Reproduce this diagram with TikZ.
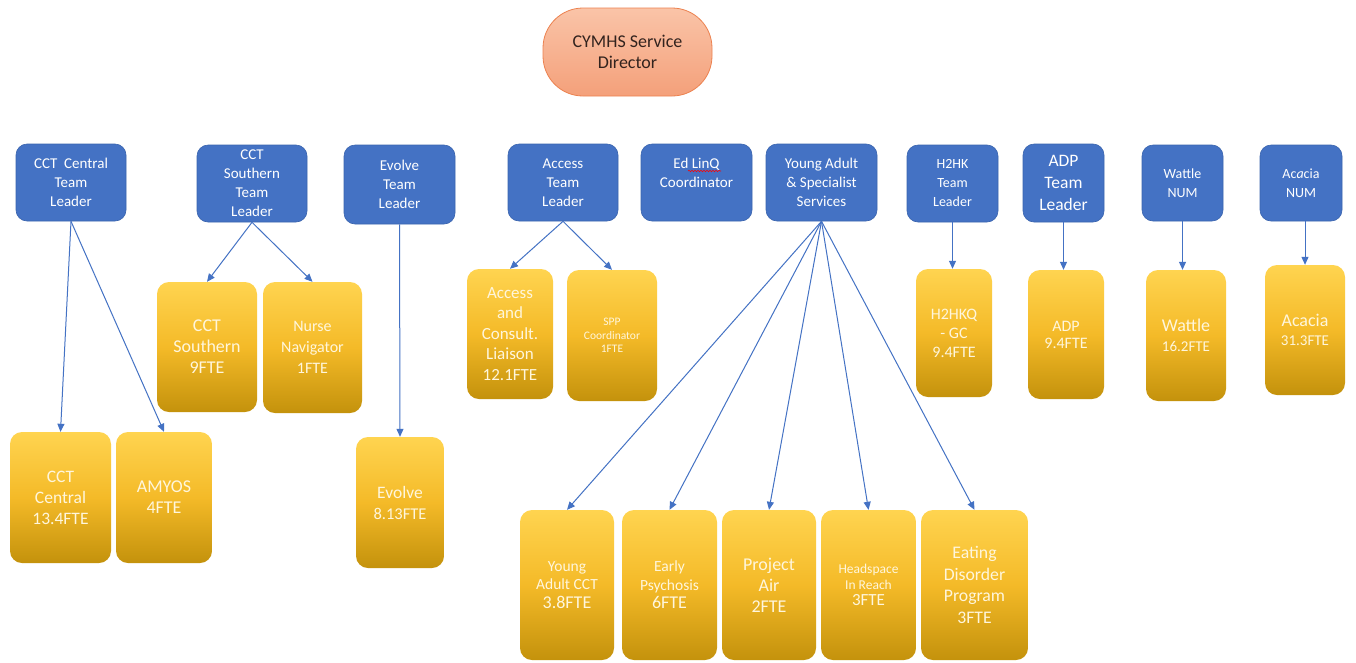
\documentclass[tikz,border=0pt]{standalone}
\usepackage{fontspec}
\setmainfont{Carlito}
\usetikzlibrary{arrows.meta,calc,decorations.pathmorphing}
\definecolor{ablue}{HTML}{4472C4}
\definecolor{ablueedge}{HTML}{3A64AE}
\definecolor{ytop}{RGB}{255,212,80}
\definecolor{ymid}{RGB}{244,186,40}
\definecolor{ybot}{RGB}{196,146,12}
\definecolor{ytext}{RGB}{255,246,220}
\definecolor{dtop}{RGB}{250,196,168}
\definecolor{dbot}{RGB}{244,160,122}
\definecolor{dedge}{RGB}{236,130,80}
\definecolor{dtext}{RGB}{50,35,30}
\newcommand{\myfs}[2]{\fontsize{#1}{#2}\selectfont}
\begin{document}
\begin{tikzpicture}[x=1pt,y=-1pt,
 bluebox/.style={fill=ablue, draw=ablueedge, line width=0.6pt, rounded corners=11pt, align=center, text=white, inner sep=0pt, font=\myfs{15}{19}},
 goldbox/.style={top color=ytop, bottom color=ybot, middle color=ymid, draw=none, rounded corners=12pt, align=center, text=ytext, inner sep=0pt, font=\myfs{17.5}{21}},
 dirbox/.style={top color=dtop, bottom color=dbot, draw=dedge, line width=0.8pt, rounded corners=40pt, align=center, text=dtext, inner sep=0pt, font=\myfs{18}{21}},
 link/.style={draw=ablue, line width=1pt, -{Triangle[length=8pt,width=7pt]}},
]
\fill[white] (0,0) rectangle (1356,662);
\useasboundingbox (0,0) rectangle (1356,662);

% director
\node[dirbox, minimum width=169pt, minimum height=88pt] (dir) at (627.5,52) {CYMHS Service\\Director};

% blue boxes
\node[bluebox, minimum width=110pt, minimum height=77pt] (ctl) at (71,182.5) {CCT~ Central\\Team\\Leader};
\node[bluebox, minimum width=110pt, minimum height=77pt] (stl) at (252,183.5) {CCT\\Southern\\Team\\Leader};
\node[bluebox, minimum width=111pt, minimum height=79pt] (etl) at (399.5,184.5) {Evolve\\Team\\Leader};
\node[bluebox, minimum width=110pt, minimum height=77pt] (atl) at (563,182.5) {Access\\Team\\Leader};
\node[bluebox, minimum width=111pt, minimum height=77pt] (ed) at (696.5,182.5) {Ed LinQ\\Coordinator\\\phantom{X}};
\node[bluebox, minimum width=111pt, minimum height=77pt] (yas) at (821.5,182.5) {Young Adult\\\& Specialist\\Services};
\node[bluebox, minimum width=91pt, minimum height=77pt, font=\myfs{14}{19}] (htl) at (952.5,183.5) {H2HK\\Team\\Leader};
\node[bluebox, minimum width=81pt, minimum height=78pt, font=\myfs{17.5}{22}] (adptl) at (1063.5,183) {ADP\\Team\\Leader};
\node[bluebox, minimum width=81pt, minimum height=76pt, font=\myfs{14}{19}] (wnum) at (1182.5,183) {Wattle\\NUM};
\node[bluebox, minimum width=82pt, minimum height=76pt, font=\myfs{14}{19}] (anum) at (1301,183) {Ac\textit{a}cia\\NUM};

% spell-check underline
\draw[red, line width=0.6pt, decorate, decoration={snake, amplitude=0.7pt, segment length=3pt}]
  ($(ed.center)+(-8.5,-11.5)$) -- ($(ed.center)+(24.5,-11.5)$);

% gold boxes
\node[goldbox, minimum width=101pt, minimum height=131pt] (cctc) at (60.5,497.5) {CCT\\Central\\13.4FTE};
\node[goldbox, minimum width=96pt, minimum height=131pt, font=\myfs{18}{21}] (amyos) at (164,497.5) {AMYOS\\4FTE};
\node[goldbox, minimum width=88pt, minimum height=131pt, font=\myfs{17.5}{21}] (evo) at (400,502.5) {Evolve\\{\myfs{16.5}{20}8.13FTE}};
\node[goldbox, minimum width=100pt, minimum height=130pt, font=\myfs{18}{21}] (ccts) at (207,347) {CCT\\Southern\\9FTE};
\node[goldbox, minimum width=99pt, minimum height=131pt, font=\myfs{16}{21}] (nurse) at (312.5,347.5) {Nurse\\Navigator\\1FTE};
\node[goldbox, minimum width=86pt, minimum height=130pt, font=\myfs{17}{20.5}] (acc) at (510,334) {Access\\and\\Consult.\\Liaison\\12.1FTE};
\node[goldbox, minimum width=90pt, minimum height=131pt, font=\myfs{11.5}{13.5}] (spp) at (612,335.5) {SPP\\Coordinator\\1FTE};
\node[goldbox, minimum width=76pt, minimum height=128pt, font=\myfs{16}{19}] (h2hkq) at (954,333) {H2HKQ\\- GC\\9.4FTE};
\node[goldbox, minimum width=76pt, minimum height=129pt, font=\myfs{16}{17}] (adp) at (1066,334.5) {ADP\\9.4FTE};
\node[goldbox, minimum width=80pt, minimum height=131pt, font=\myfs{18}{20}] (wattle) at (1186,335.5) {Wattle\\{\myfs{15}{20}16.2FTE}};
\node[goldbox, minimum width=80pt, minimum height=130pt, font=\myfs{18}{19}] (acacia) at (1305,330) {Acacia\\{\myfs{15}{19}31.3FTE}};

\node[goldbox, minimum width=94pt, minimum height=150pt, font=\myfs{15.5}{18.5}] (yacct) at (567,585) {Young\\Adult CCT\\{\myfs{18}{21}3.8FTE}};
\node[goldbox, minimum width=95pt, minimum height=150pt, font=\myfs{15.5}{18.5}] (early) at (669.5,585) {Early\\Psychosis\\{\myfs{18}{21}6FTE}};
\node[goldbox, minimum width=94pt, minimum height=150pt, font=\myfs{18}{21}] (proj) at (769,585) {Project\\Air\\2FTE};
\node[goldbox, minimum width=95pt, minimum height=150pt, font=\myfs{13.5}{16}] (head) at (868.5,585) {Headspace\\In Reach\\{\myfs{17}{19}3FTE}};
\node[goldbox, minimum width=107pt, minimum height=150pt, font=\myfs{17.7}{21.7}] (eat) at (974.5,585) {Eating\\Disorder\\Program\\3FTE};

% connectors
\draw[link] (ctl.south) -- (cctc.north);
\draw[link] (ctl.south) -- (amyos.north);
\draw[link] (stl.south) -- (ccts.north);
\draw[link] (stl.south) -- (nurse.north);
\draw[link] (etl.south) -- (evo.north);
\draw[link] (atl.south) -- (acc.north);
\draw[link] (atl.south) -- (spp.north);
\foreach \t in {yacct,early,proj,head,eat}
  \draw[link] (yas.south) -- (\t.north);
\draw[link] (htl.south) -- (htl.south |- h2hkq.north);
\draw[link] (adptl.south) -- (adptl.south |- adp.north);
\draw[link] (wnum.south) -- (wnum.south |- wattle.north);
\draw[link] (acacia.north |- anum.south) -- (acacia.north);
\end{tikzpicture}
\end{document}
